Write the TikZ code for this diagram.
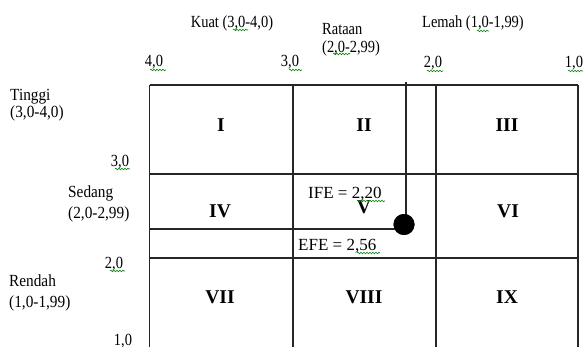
\documentclass[tikz,border=0pt]{standalone}
\usepackage{fontspec}
\setmainfont{Liberation Serif}
\newfontfamily\topfont[FakeStretch=0.85]{Liberation Serif}
\newfontfamily\sidefont[FakeStretch=0.9]{Liberation Serif}
\usetikzlibrary{decorations.pathmorphing}
\tikzset{
  gridline/.style={line width=1.2pt, black!85},
  toplbl/.style={inner sep=0pt, anchor=base, font=\topfont\fontsize{17}{18}\selectfont},
  toplblw/.style={inner sep=0pt, anchor=base west, font=\topfont\fontsize{17}{18}\selectfont},
  sidelbl/.style={inner sep=0pt, anchor=base west, font=\sidefont\fontsize{17}{18}\selectfont},
  vallbl/.style={inner sep=0pt, anchor=base west, font=\fontsize{17}{18}\selectfont},
  roman/.style={inner sep=0pt, anchor=base, font=\bfseries\fontsize{19.5}{21}\selectfont},
  squig/.style={draw=green!55!black, line width=0.6pt, decorate,
    decoration={snake, amplitude=0.8pt, segment length=3pt}},
  marker/.style={circle, fill=black, minimum size=21pt, inner sep=0pt},
  connector/.style={line width=1.2pt, black!85}
}
\begin{document}
\begin{tikzpicture}[x=1pt, y=-1pt]
\useasboundingbox (0,0) rectangle (585,347);
% grid
\draw[gridline] (149.5,85) -- (578,85);
\draw[gridline] (149.5,174) -- (578,174);
\draw[gridline] (149.5,258) -- (578,258);
\draw[gridline] (149.5,85) -- (149.5,347);
\draw[gridline] (293,85) -- (293,347);
\draw[gridline] (436,85) -- (436,347);
\draw[gridline] (578,85) -- (578,347);
% top labels
\node[toplbl] (kuat) at (232,28) {Kuat (3,0-4,0)};
\node[toplblw] (rataan) at (322,35) {Rataan};
\node[toplblw] (rataanr) at (322,53) {(2,0-2,99)};
\node[toplbl] (lemah) at (473,28) {Lemah (1,0-1,99)};
\node[toplbl] (t40) at (154,67) {4,0};
\node[toplbl] (t30) at (290,67) {3,0};
\node[toplbl] (t20) at (433,68) {2,0};
\node[toplbl] (t10) at (574,68) {1,0};
% side labels
\node[sidelbl] (tinggi) at (10,101) {Tinggi};
\node[sidelbl] (tinggir) at (10,118) {(3,0-4,0)};
\node[toplbl] (s30) at (120,167) {3,0};
\node[sidelbl] (sedang) at (68,197) {Sedang};
\node[sidelbl] (sedangr) at (68,218) {(2,0-2,99)};
\node[toplbl] (s20) at (114,268) {2,0};
\node[sidelbl] (rendah) at (9,286) {Rendah};
\node[sidelbl] (rendahr) at (9,307) {(1,0-1,99)};
\node[toplbl] (s10) at (123,345) {1,0};
% roman numerals
\node[roman] (c1) at (221,132) {I};
\node[roman] (c2) at (364,132) {II};
\node[roman] (c3) at (507,132) {III};
\node[roman] (c4) at (220,217) {IV};
\node[roman] (c5) at (364,213) {V};
\node[roman] (c6) at (508,217) {VI};
\node[roman] (c7) at (220,303) {VII};
\node[roman] (c8) at (364,303) {VIII};
\node[roman] (c9) at (507,303) {IX};
% values
\node[vallbl] (ife) at (308,198) {IFE = 2,20};
\node[vallbl] (efe) at (298,250) {EFE = 2,56};
% marker and guide lines
\node[marker] (dot) at (404,224.5) {};
\coordinate (ifetop) at (406,82);
\coordinate (efeleft) at (149.5,229);
\draw[connector] (ifetop) -- (ifetop |- dot.center);
\draw[connector] (efeleft) -- (dot.center |- efeleft);
\node[marker] at (dot) {};
% spell-check squiggles
\draw[squig] (233,30) -- (248,30);
\draw[squig] (150,70) -- (166,70);
\draw[squig] (289,70) -- (302,70);
\draw[squig] (333,54) -- (350,54);
\draw[squig] (477,31) -- (489,31);
\draw[squig] (427,71) -- (443,71);
\draw[squig] (568,71) -- (583,71);
\draw[squig] (115,169) -- (130,169);
\draw[squig] (110,271) -- (125,271);
\draw[squig] (357,201) -- (385,201);
\draw[squig] (357,253) -- (380,253);
\end{tikzpicture}
\end{document}
